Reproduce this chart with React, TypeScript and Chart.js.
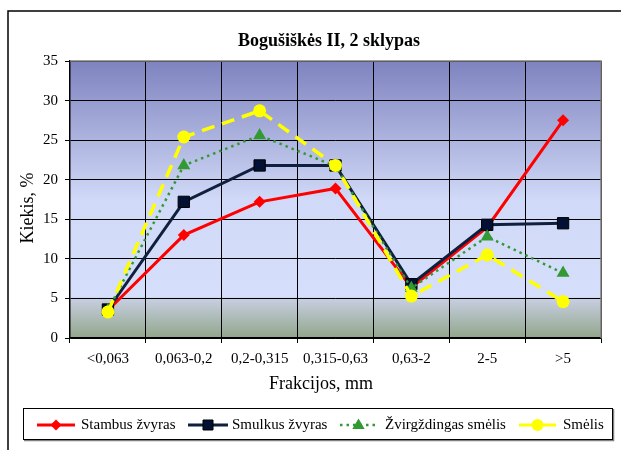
import { useEffect, useRef } from "react";
import { Chart, registerables } from "chart.js";

Chart.register(...registerables);

const categories = ["<0,063", "0,063-0,2", "0,2-0,315", "0,315-0,63", "0,63-2", "2-5", ">5"];
const stambusZvyras = [3.5, 13.0, 17.2, 18.9, 6.4, 14.0, 27.5];
const smulkusZvyras = [3.6, 17.2, 21.8, 21.8, 6.8, 14.3, 14.5];
const zvirgzdingasSmelis = [3.5, 21.8, 25.6, 21.7, 6.3, 12.8, 8.2];
const smelis = [3.3, 25.4, 28.7, 21.8, 5.3, 10.5, 4.6];
const yMin = 0;
const yMax = 35;
const yStep = 5;

const titleText = "Bogušiškės II, 2 sklypas";
const yTitle = "Kiekis, %";
const xTitle = "Frakcijos, mm";

const RED = "#ff0000";
const NAVY = "#0f1f3d";
const NAVY_FILL = "#021033";
const GREEN = "#339933";
const YELLOW = "#ffff00";
const SERIF = "'Liberation Serif', 'Times New Roman', serif";

type LegendItem = {
  label: string;
  color: string;
  dash: number[];
  width: number;
  marker: "diamond" | "square" | "triangle" | "circle";
  lineX0: number;
  lineX1: number;
  textX: number;
};

const legendItems: LegendItem[] = [
  { label: "Stambus žvyras", color: RED, dash: [], width: 3, marker: "diamond", lineX0: 37, lineX1: 75, textX: 81 },
  { label: "Smulkus žvyras", color: NAVY, dash: [], width: 3, marker: "square", lineX0: 188, lineX1: 228, textX: 232 },
  { label: "Žvirgždingas smėlis", color: GREEN, dash: [2.5, 4], width: 2.5, marker: "triangle", lineX0: 340, lineX1: 377, textX: 385 },
  { label: "Smėlis", color: YELLOW, dash: [], width: 3, marker: "circle", lineX0: 519, lineX1: 556, textX: 563 },
];

function drawMarker(ctx: CanvasRenderingContext2D, kind: LegendItem["marker"], x: number, y: number, color: string) {
  ctx.save();
  ctx.setLineDash([]);
  ctx.beginPath();
  if (kind === "diamond") {
    const r = 5.5;
    ctx.moveTo(x, y - r);
    ctx.lineTo(x + r, y);
    ctx.lineTo(x, y + r);
    ctx.lineTo(x - r, y);
    ctx.closePath();
    ctx.fillStyle = color;
    ctx.fill();
  } else if (kind === "square") {
    ctx.rect(x - 5, y - 5, 10, 10);
    ctx.fillStyle = NAVY_FILL;
    ctx.fill();
    ctx.lineWidth = 1;
    ctx.strokeStyle = "#000000";
    ctx.stroke();
  } else if (kind === "triangle") {
    const r = 6.5;
    ctx.moveTo(x, y - r);
    ctx.lineTo(x + r * 0.95, y + r * 0.6);
    ctx.lineTo(x - r * 0.95, y + r * 0.6);
    ctx.closePath();
    ctx.fillStyle = color;
    ctx.fill();
  } else {
    ctx.arc(x, y, 6, 0, Math.PI * 2);
    ctx.fillStyle = color;
    ctx.fill();
  }
  ctx.restore();
}

const decorPlugin = {
  id: "decor",
  beforeDraw(chart: Chart) {
    const { ctx, chartArea } = chart;
    ctx.save();
    ctx.fillStyle = "#ffffff";
    ctx.fillRect(0, 0, chart.width, chart.height);
    const g = ctx.createLinearGradient(0, chartArea.top, 0, chartArea.bottom);
    g.addColorStop(0, "#7e83bf");
    g.addColorStop(0.5, "#d0d9f7");
    g.addColorStop(0.85, "#d5defa");
    g.addColorStop(0.86, "#c6cee0");
    g.addColorStop(1, "#92a68b");
    ctx.fillStyle = g;
    ctx.fillRect(chartArea.left, chartArea.top, chartArea.right - chartArea.left, chartArea.bottom - chartArea.top);
    ctx.restore();
  },
  afterDraw(chart: Chart) {
    const { ctx, chartArea } = chart;
    ctx.save();
    // plot frame (top and right edges are grey)
    ctx.strokeStyle = "#808080";
    ctx.lineWidth = 1.5;
    ctx.beginPath();
    ctx.moveTo(chartArea.left, chartArea.top);
    ctx.lineTo(chartArea.right, chartArea.top);
    ctx.lineTo(chartArea.right, chartArea.bottom);
    ctx.stroke();

    // outer chart border
    ctx.strokeStyle = "#000000";
    ctx.lineWidth = 1.5;
    ctx.strokeRect(8, 11, 700, 600);

    // title
    ctx.fillStyle = "#000000";
    ctx.textAlign = "center";
    ctx.textBaseline = "middle";
    ctx.font = `bold 18px ${SERIF}`;
    ctx.fillText(titleText, 329, 41);

    // axis titles
    ctx.font = `18px ${SERIF}`;
    ctx.fillText(xTitle, 321, 384);
    ctx.save();
    ctx.translate(28, 208);
    ctx.rotate(-Math.PI / 2);
    ctx.fillText(yTitle, 0, 0);
    ctx.restore();

    // legend box with shadow edges
    const lx = 23, ly = 408, lw = 590, lh = 32;
    ctx.fillStyle = "#ffffff";
    ctx.fillRect(lx, ly, lw, lh);
    ctx.strokeStyle = "#808080";
    ctx.lineWidth = 1.5;
    ctx.beginPath();
    ctx.moveTo(lx + 1, ly + lh + 0.5);
    ctx.lineTo(lx + lw + 0.5, ly + lh + 0.5);
    ctx.lineTo(lx + lw + 0.5, ly + 1);
    ctx.stroke();
    ctx.strokeStyle = "#000000";
    ctx.lineWidth = 1;
    ctx.strokeRect(lx + 0.5, ly + 0.5, lw - 1, lh - 1);

    const cy = 425;
    for (const it of legendItems) {
      ctx.save();
      ctx.strokeStyle = it.color;
      ctx.lineWidth = it.width;
      ctx.setLineDash(it.dash);
      ctx.beginPath();
      ctx.moveTo(it.lineX0, cy);
      ctx.lineTo(it.lineX1, cy);
      ctx.stroke();
      ctx.restore();
      drawMarker(ctx, it.marker, (it.lineX0 + it.lineX1) / 2, cy, it.color);
      ctx.fillStyle = "#000000";
      ctx.font = `15px ${SERIF}`;
      ctx.textAlign = "left";
      ctx.textBaseline = "middle";
      ctx.fillText(it.label, it.textX, cy);
    }
    ctx.restore();
  },
};

export default function App() {
  const canvasRef = useRef<HTMLCanvasElement | null>(null);

  useEffect(() => {
    const canvas = canvasRef.current;
    if (!canvas) return;
    const chart = new Chart(canvas, {
      type: "line",
      data: {
        labels: categories,
        datasets: [
          {
            label: "Stambus žvyras",
            data: stambusZvyras,
            borderColor: RED,
            backgroundColor: RED,
            borderWidth: 3,
            pointStyle: "rectRot",
            pointRadius: 6,
            pointBorderWidth: 0,
            order: 4,
          },
          {
            label: "Smulkus žvyras",
            data: smulkusZvyras,
            borderColor: NAVY,
            backgroundColor: NAVY_FILL,
            pointBorderColor: "#000000",
            borderWidth: 3,
            pointStyle: "rect",
            pointRadius: 8,
            pointBorderWidth: 1,
            order: 3,
          },
          {
            label: "Žvirgždingas smėlis",
            data: zvirgzdingasSmelis,
            borderColor: GREEN,
            backgroundColor: GREEN,
            borderWidth: 2.5,
            borderDash: [2.5, 4],
            pointStyle: "triangle",
            pointRadius: 7.5,
            pointBorderWidth: 0,
            order: 2,
          },
          {
            label: "Smėlis",
            data: smelis,
            borderColor: YELLOW,
            backgroundColor: YELLOW,
            borderWidth: 3.5,
            borderDash: [13, 8],
            pointStyle: "circle",
            pointRadius: 6.5,
            pointBorderWidth: 0,
            order: 1,
          },
        ],
      },
      options: {
        responsive: false,
        animation: false,
        devicePixelRatio: 1,
        layout: { padding: { left: 30, right: 20, top: 61, bottom: 82 } },
        plugins: {
          legend: { display: false },
          title: { display: false },
          tooltip: { enabled: false },
        },
        elements: { line: { tension: 0 } },
        scales: {
          x: {
            type: "category",
            offset: true,
            grid: {
              offset: true,
              color: "#000000",
              lineWidth: 1,
              tickLength: 5,
              drawOnChartArea: true,
            },
            border: { display: true, color: "#000000", width: 1.5 },
            ticks: {
              color: "#000000",
              font: { family: SERIF, size: 15 },
              padding: 7,
              maxRotation: 0,
              autoSkip: false,
            },
            afterFit: (scale: any) => {
              scale.height = 30;
            },
          },
          y: {
            min: yMin,
            max: yMax,
            grid: { color: "#000000", lineWidth: 1, tickLength: 5 },
            border: { display: true, color: "#000000", width: 1.5 },
            ticks: {
              stepSize: yStep,
              color: "#000000",
              font: { family: SERIF, size: 15 },
              padding: 7,
            },
            afterFit: (scale: any) => {
              scale.width = 40;
            },
          },
        },
      },
      plugins: [decorPlugin],
    });
    return () => chart.destroy();
  }, []);

  return (
    <div style={{ position: "absolute", left: 0, top: 0, width: 621, height: 450 }}>
      <canvas ref={canvasRef} width={621} height={450} style={{ display: "block" }} />
    </div>
  );
}
